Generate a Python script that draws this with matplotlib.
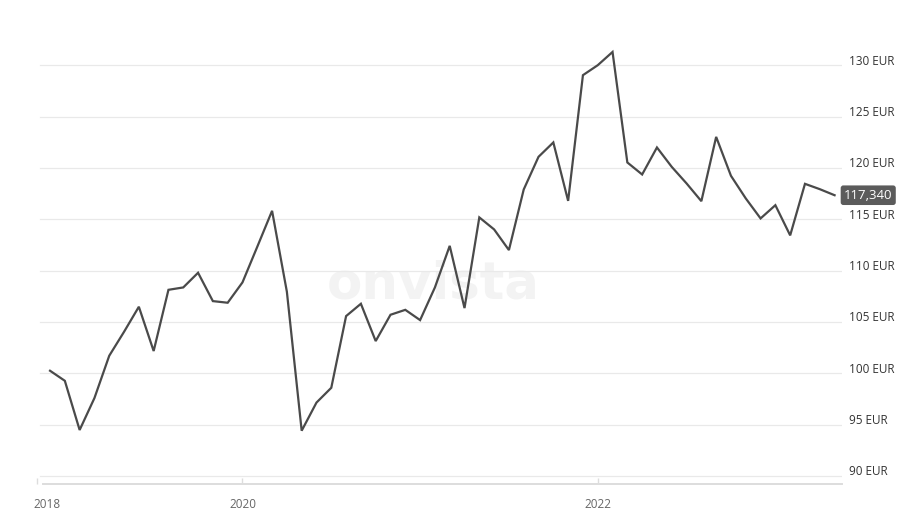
import matplotlib
matplotlib.use("Agg")
import matplotlib.pyplot as plt
import matplotlib.transforms as mtransforms

plt.rcParams['font.family'] = ['Open Sans', 'DejaVu Sans']

# data (sequence index -> price in EUR)
prices = [100.25, 99.27, 94.48, 97.59, 101.71, 104.04, 106.48, 102.17, 108.13, 108.36,
          109.79, 107.03, 106.87, 108.85, 112.32, 115.82, 107.94, 94.41, 97.15, 98.59,
          105.57, 106.77, 103.14, 105.70, 106.18, 105.18, 108.36, 112.41, 106.35, 115.18,
          114.01, 112.00, 117.90, 121.08, 122.48, 116.79, 129.03, 130.00, 131.29, 120.53,
          119.36, 121.99, 120.10, 118.49, 116.76, 123.02, 119.23, 117.03, 115.08, 116.37,
          113.43, 118.45, 117.93, 117.34]
x_idx = list(range(len(prices)))
year_ticks = [-0.9, 13, 37]
year_labels = ["2018", "2020", "2022"]
y_ticks = [90, 95, 100, 105, 110, 115, 120, 125, 130]
y_labels = [f"{v} EUR" for v in y_ticks]
last_label = "117,340"

fig = plt.figure(figsize=(9.2, 5.16), dpi=100)
ax = fig.add_axes([0.0399, 0.062, 0.8753, 0.8992])
ax.set_xlim(-0.9, 53.5)
ax.set_ylim(89.22, 134.4)

for s in ['top', 'left', 'right']:
    ax.spines[s].set_visible(False)
ax.spines['bottom'].set_color('#dddddd')
ax.spines['bottom'].set_linewidth(1.4)
ax.spines['bottom'].set_bounds(-0.45, 53.5)

for v in y_ticks:
    ax.axhline(v, xmin=0.004, xmax=1, color='#e9e9e9', lw=0.9, zorder=1)

# watermark
ax.text(0.492, 0.43, "onvista", transform=ax.transAxes, fontsize=37, fontweight='bold',
        color='#f3f3f3', ha='center', va='center', zorder=0, family='DejaVu Sans')

ax.plot(x_idx, prices, color='#4a4a4a', lw=1.6, zorder=3, solid_joinstyle='miter')

ax.set_xticks(year_ticks)
ax.set_xticklabels(year_labels)
ax.tick_params(axis='x', direction='in', length=4, width=1, color='#dddddd',
               labelsize=8.5, labelcolor='#666666', pad=10)
lbls = ax.get_xticklabels()
lbls[0].set_ha('left')
lbls[0].set_transform(lbls[0].get_transform() + mtransforms.ScaledTranslation(-3/100, 0, fig.dpi_scale_trans))

ax.yaxis.tick_right()
ax.set_yticks(y_ticks)
ax.set_yticklabels(y_labels)
ax.tick_params(axis='y', length=0, pad=5, labelsize=8.5, labelcolor='#333333')
off = mtransforms.ScaledTranslation(0, 5.5/100, fig.dpi_scale_trans)
for t in ax.get_yticklabels():
    t.set_transform(t.get_transform() + off)

ax.text(1.0, prices[-1], last_label, transform=ax.get_yaxis_transform(),
        ha='left', va='center', fontsize=9.5, color='white', zorder=5,
        bbox=dict(boxstyle='round,pad=0.25,rounding_size=0.2', fc='#5b5b5b', ec='none'))
ax.texts[-1].set_transform(ax.get_yaxis_transform() + mtransforms.ScaledTranslation(2/100, 0, fig.dpi_scale_trans))

fig.savefig("out.png", dpi=100)
